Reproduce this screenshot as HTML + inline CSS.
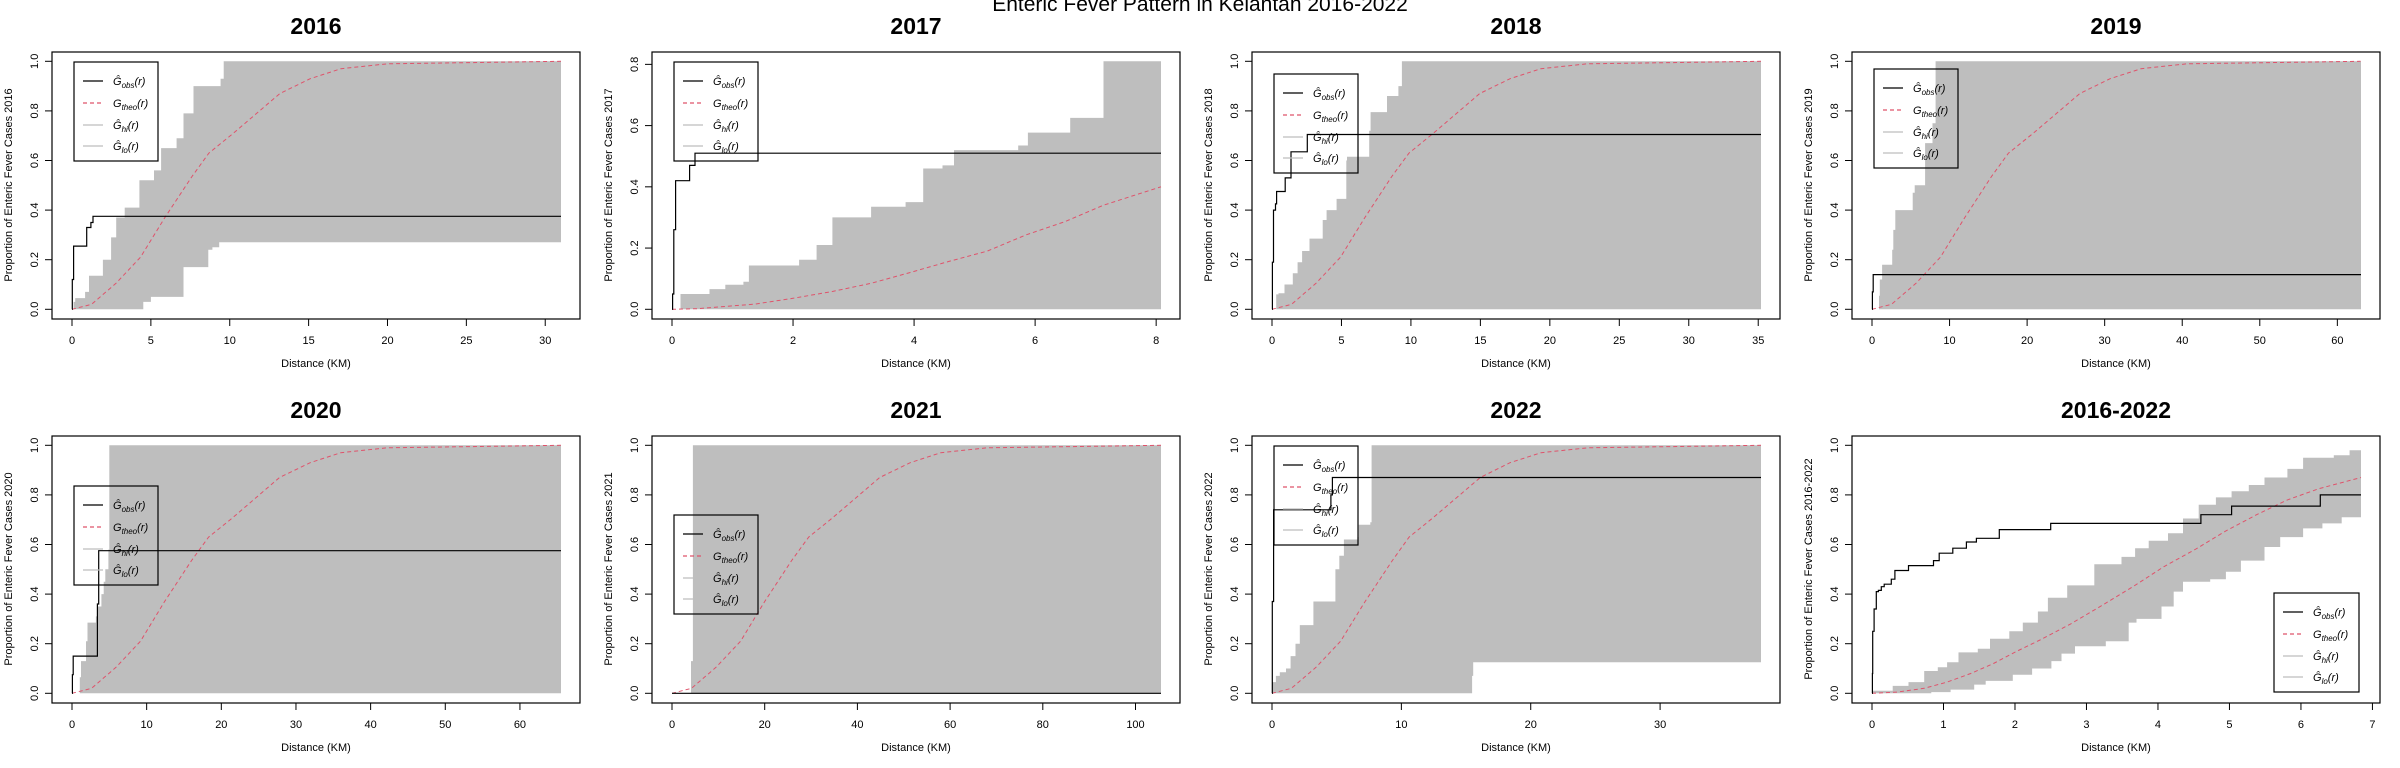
<!DOCTYPE html>
<html><head><meta charset="utf-8"><style>
html,body{margin:0;padding:0;background:#fff;}
svg{display:block;font-family:"Liberation Sans",Arial,sans-serif;}
</style></head><body>
<svg id="chart" width="2400" height="768" viewBox="0 0 2400 768">
<rect width="2400" height="768" fill="#fff"/>
<text x="1200" y="11" text-anchor="middle" font-size="21">Enteric Fever Pattern in Kelantan 2016-2022</text>
</svg>
<script>
// ---- data arrays ----
const panelTitles = ["2016","2017","2018","2019","2020","2021","2022","2016-2022"];
const xMaxes = [31, 8.08, 35.2, 63.05, 65.5, 105.5, 37.8, 6.84];
const yMaxes = [1, 0.81, 1, 1, 1, 1, 1, 1];
const xTicks2016 = [0,5,10,15,20,25,30];
const xTicks2017 = [0,2,4,6,8];
const xTicks2018 = [0,5,10,15,20,25,30,35];
const xTicks2019 = [0,10,20,30,40,50,60];
const xTicks2020 = [0,10,20,30,40,50,60];
const xTicks2021 = [0,20,40,60,80,100];
const xTicks2022 = [0,10,20,30];
const xTicksAll = [0,1,2,3,4,5,6,7];
const yTicksFull = ["0.0","0.2","0.4","0.6","0.8","1.0"];
const yTicks2017 = ["0.0","0.2","0.4","0.6","0.8"];
const legendTops = [62,62,74,69,102,131,62,209];

// 2016
const obsX2016=[0,0.02,0.1,0.93,1.2,1.33];
const obsY2016=[0,0.12,0.255,0.33,0.35,0.375];
const hiX2016=[0,0.1,0.2,0.83,1.08,1.96,2.48,2.8,3.34,4.27,5.2,5.65,6.63,7.07,7.7,9.42,9.62];
const hiY2016=[0,0.03,0.045,0.07,0.135,0.2,0.29,0.37,0.41,0.52,0.56,0.65,0.69,0.79,0.9,0.93,1.0];
const loX2016=[0,4.52,5.0,7.07,8.64,8.9,9.33];
const loY2016=[0,0.03,0.05,0.17,0.24,0.25,0.27];
const thX2016=[0,1.24,2.79,4.34,5.89,7.6,8.68,10.23,13.18,15.1,17.05,20,31];
const thY2016=[0,0.02,0.105,0.21,0.37,0.535,0.63,0.71,0.87,0.93,0.97,0.99,1];
// 2017
const obsX2017=[0,0.01,0.03,0.06,0.22,0.29,0.38];
const obsY2017=[0,0.05,0.26,0.42,0.42,0.47,0.51];
const hiX2017=[0,0.14,0.62,0.88,1.18,1.27,2.1,2.39,2.65,3.29,3.86,4.15,4.47,4.66,5.72,5.88,6.58,7.13];
const hiY2017=[0,0.05,0.066,0.08,0.09,0.143,0.162,0.21,0.3,0.335,0.35,0.46,0.47,0.52,0.535,0.577,0.625,0.81];
const loX2017=[0];
const loY2017=[0];
const thX2017=[0,0.41,1.37,2.0,2.65,3.29,3.93,4.57,5.21,5.85,6.49,7.13,8.08];
const thY2017=[0,0.002,0.017,0.036,0.058,0.085,0.12,0.156,0.19,0.243,0.286,0.34,0.40];
// 2018
const obsX2018=[0,0.03,0.11,0.25,0.33,0.95,1.37,2.54];
const obsY2018=[0,0.19,0.4,0.425,0.475,0.53,0.635,0.705];
const hiX2018=[0,0.3,0.47,0.9,1.5,1.84,2.17,2.7,3.65,3.93,4.65,5.35,5.4,7.0,7.1,8.28,9.1,9.35];
const hiY2018=[0,0.06,0.065,0.1,0.145,0.19,0.235,0.285,0.36,0.4,0.445,0.6,0.615,0.72,0.795,0.86,0.9,1.0];
const loX2018=[0];
const loY2018=[0];
const thX2018=[0,1.41,3.17,4.93,6.69,8.62,9.86,11.62,14.96,17.14,19.36,22.7,35.2];
const thY2018=[0,0.02,0.105,0.21,0.37,0.535,0.63,0.71,0.87,0.93,0.97,0.99,1];
// 2019
const obsX2019=[0,0.05,0.15];
const obsY2019=[0,0.07,0.14];
const hiX2019=[0,0.9,1.0,1.3,2.6,2.75,3.0,5.25,5.5,6.85,7.8,8.2];
const hiY2019=[0,0.055,0.12,0.18,0.24,0.32,0.4,0.47,0.5,0.67,0.75,1.0];
const loX2019=[0];
const loY2019=[0];
const thX2019=[0,2.52,5.67,8.82,11.97,15.4,17.6,20.8,26.8,30.7,34.7,40.6,63];
const thY2019=[0,0.02,0.105,0.21,0.37,0.535,0.63,0.71,0.87,0.93,0.97,0.99,1];
// 2020
const obsX2020=[0,0.05,0.16,3.4,3.58];
const obsY2020=[0,0.075,0.15,0.36,0.575];
const hiX2020=[0,1.04,1.2,1.87,2.07,3.2,3.47,3.94,4.25,4.46,4.87,5.0];
const hiY2020=[0,0.065,0.13,0.21,0.285,0.31,0.35,0.4,0.45,0.5,0.58,1.0];
const loX2020=[0];
const loY2020=[0];
const thX2020=[0,2.62,5.9,9.17,12.4,16.0,18.3,21.6,27.8,31.9,36.0,42.2,65.5];
const thY2020=[0,0.02,0.105,0.21,0.37,0.535,0.63,0.71,0.87,0.93,0.97,0.99,1];
// 2021
const obsX2021=[0];
const obsY2021=[0];
const hiX2021=[0,4.1,4.5];
const hiY2021=[0,0.13,1.0];
const loX2021=[0];
const loY2021=[0];
const thX2021=[0,4.2,9.5,14.8,20.0,25.8,29.5,34.8,44.8,51.4,58.0,68.0,105.5];
const thY2021=[0,0.02,0.105,0.21,0.37,0.535,0.63,0.71,0.87,0.93,0.97,0.99,1];
// 2022
const obsX2022=[0,0.02,0.12,4.55,4.67];
const obsY2022=[0,0.37,0.74,0.8,0.87];
const hiX2022=[0,0.03,0.3,0.6,1.08,1.44,1.82,2.15,3.2,4.9,5.2,5.56,6.6,6.7,7.6,7.7];
const hiY2022=[0,0.045,0.07,0.085,0.1,0.15,0.2,0.275,0.37,0.5,0.555,0.62,0.63,0.68,0.69,1.0];
const loX2022=[0,15.47,15.55];
const loY2022=[0,0.07,0.125];
const thX2022=[0,1.5,3.4,5.3,7.2,9.3,10.6,12.5,16.1,18.4,20.8,24.4,37.8];
const thY2022=[0,0.02,0.105,0.21,0.37,0.535,0.63,0.71,0.87,0.93,0.97,0.99,1];
// 2016-2022
const obsXAll=[0,0.005,0.01,0.03,0.06,0.09,0.13,0.17,0.27,0.32,0.51,0.86,0.94,1.13,1.32,1.46,1.78,2.5,4.6,5.03,6.27];
const obsYAll=[0,0.08,0.25,0.34,0.41,0.415,0.43,0.44,0.46,0.495,0.515,0.535,0.565,0.585,0.61,0.625,0.66,0.685,0.72,0.755,0.8];
const hiXAll=[0,0.29,0.51,0.73,0.92,1.05,1.21,1.48,1.65,1.92,2.11,2.32,2.46,2.73,3.11,3.49,3.68,3.87,4.14,4.35,4.57,4.81,5.03,5.27,5.49,5.81,6.03,6.46,6.68];
const hiYAll=[0.01,0.03,0.045,0.09,0.105,0.125,0.165,0.18,0.22,0.25,0.285,0.33,0.385,0.435,0.52,0.55,0.585,0.615,0.645,0.705,0.76,0.79,0.815,0.84,0.87,0.905,0.95,0.96,0.98];
const loXAll=[0,0.83,1.1,1.43,1.59,1.97,2.24,2.51,2.65,2.84,3.27,3.59,3.7,4.05,4.22,4.35,4.73,4.95,5.16,5.49,5.71,6.03,6.3,6.57];
const loYAll=[0,0.005,0.015,0.035,0.05,0.075,0.1,0.13,0.16,0.19,0.21,0.285,0.3,0.35,0.41,0.45,0.46,0.49,0.535,0.59,0.63,0.665,0.685,0.71];
const thXAll=[0,0.35,0.73,1.05,1.38,1.7,2.03,2.35,2.78,3.22,3.65,4.08,4.52,4.95,5.38,5.81,6.25,6.84];
const thYAll=[0,0.005,0.02,0.045,0.08,0.12,0.17,0.215,0.28,0.355,0.43,0.51,0.58,0.655,0.72,0.78,0.825,0.87];

const xTickSets=[xTicks2016,xTicks2017,xTicks2018,xTicks2019,xTicks2020,xTicks2021,xTicks2022,xTicksAll];
const obsXs=[obsX2016,obsX2017,obsX2018,obsX2019,obsX2020,obsX2021,obsX2022,obsXAll];
const obsYs=[obsY2016,obsY2017,obsY2018,obsY2019,obsY2020,obsY2021,obsY2022,obsYAll];
const hiXs=[hiX2016,hiX2017,hiX2018,hiX2019,hiX2020,hiX2021,hiX2022,hiXAll];
const hiYs=[hiY2016,hiY2017,hiY2018,hiY2019,hiY2020,hiY2021,hiY2022,hiYAll];
const loXs=[loX2016,loX2017,loX2018,loX2019,loX2020,loX2021,loX2022,loXAll];
const loYs=[loY2016,loY2017,loY2018,loY2019,loY2020,loY2021,loY2022,loYAll];
const thXs=[thX2016,thX2017,thX2018,thX2019,thX2020,thX2021,thX2022,thXAll];
const thYs=[thY2016,thY2017,thY2018,thY2019,thY2020,thY2021,thY2022,thYAll];

const NS="http://www.w3.org/2000/svg";
const svg=document.getElementById('chart');
function mk(tag,attrs,parent){const e=document.createElementNS(NS,tag);for(const k in attrs)e.setAttribute(k,attrs[k]);parent.appendChild(e);return e;}
function stepPts(xs,ys,xmax){const p=[];for(let i=0;i<xs.length;i++){p.push([xs[i],i>0?ys[i-1]:ys[0]]);p.push([xs[i],ys[i]]);}p.push([xmax,ys[ys.length-1]]);return p;}

for(let i=0;i<8;i++){
  const ox=(i%4)*600, oy=Math.floor(i/4)*384;
  const xmax=xMaxes[i], ymax=yMaxes[i];
  const g=mk('g',{transform:`translate(${ox},${oy})`},svg);
  
  
  const sx=v=>72+v/xmax*489;
  const sy=v=>309.3-v/ymax*248;
  const t=mk('text',{x:316,y:34,'text-anchor':'middle','font-size':23,'font-weight':'bold'},g);
  t.textContent=panelTitles[i];
  
  
  // band
  const hp=stepPts(hiXs[i],hiYs[i],xmax), lp=stepPts(loXs[i],loYs[i],xmax).reverse();
  const pts=hp.concat(lp).map(p=>sx(p[0]).toFixed(1)+','+sy(p[1]).toFixed(1)).join(' ');
  const band=mk('polygon',{points:pts,fill:'#bebebe',stroke:'none'},g);
  
  
  // theo
  const th=mk('polyline',{points:thXs[i].map((x,k)=>sx(x).toFixed(1)+','+sy(thYs[i][k]).toFixed(1)).join(' '),fill:'none',stroke:'#DF536B','stroke-width':1,'stroke-dasharray':'4,3'},g);
  
  
  // obs
  const op=stepPts(obsXs[i],obsYs[i],xmax).map(p=>sx(p[0]).toFixed(1)+','+sy(p[1]).toFixed(1)).join(' ');
  const ob=mk('polyline',{points:op,fill:'none',stroke:'#000','stroke-width':1.2},g);
  
  
  // box
  const bx=mk('rect',{x:52,y:52,width:528,height:267,fill:'none',stroke:'#000','stroke-width':1.2},g);
  
  
  // x axis
  const xt=xTickSets[i];
  mk('line',{x1:sx(xt[0]),x2:sx(xt[xt.length-1]),y1:319,y2:319,stroke:'#000'},g);
  xt.forEach(v=>{
    mk('line',{x1:sx(v),x2:sx(v),y1:319,y2:326,stroke:'#000'},g);
    const tl=mk('text',{x:sx(v),y:344,'text-anchor':'middle','font-size':11},g);
    tl.textContent=String(v);
    
    
  });
  const yt=ymax<1?yTicks2017:yTicksFull;
  yt.forEach(s=>{
    const v=parseFloat(s);
    mk('line',{x1:45,x2:52,y1:sy(v),y2:sy(v),stroke:'#000'},g);
    const tl=mk('text',{x:38,y:sy(v),'text-anchor':'middle','font-size':11,transform:`rotate(-90 38 ${sy(v)})`},g);
    tl.textContent=s;
    
    
  });
  const xl=mk('text',{x:316,y:367,'text-anchor':'middle','font-size':11},g);
  xl.textContent='Distance (KM)';
  
  
  const yl=mk('text',{x:12,y:185,'text-anchor':'middle','font-size':11,transform:'rotate(-90 12 185)'},g);
  yl.textContent='Proportion of Enteric Fever Cases '+panelTitles[i];
  
  
  // legend
  const lx=i===7?474:74, ly=legendTops[i], lw=i===7?85:84;
  const lg=mk('g',{},g);
  
  
  mk('rect',{x:lx,y:ly,width:lw,height:99,fill:'none',stroke:'#000','stroke-width':1.2},lg);
  const offs=[19,41,63,84], cols=['#000','#DF536B','#bebebe','#bebebe'], subs=['obs','theo','hi','lo'], hats=['Ĝ','G','Ĝ','Ĝ'];
  for(let k=0;k<4;k++){
    const yy=ly+offs[k];
    const ln=mk('line',{x1:lx+9,x2:lx+29,y1:yy,y2:yy,stroke:cols[k],'stroke-width':1.2},lg);
    if(k===1)ln.setAttribute('stroke-dasharray','4,3');
    const tx=mk('text',{x:lx+39,y:yy+4,'font-size':11,'font-style':'italic'},lg);
    
    
    tx.innerHTML=hats[k]+'<tspan font-size="8" dy="3">'+subs[k]+'</tspan><tspan dy="-3">(r)</tspan>';
  }
}
</script>
</body></html>
